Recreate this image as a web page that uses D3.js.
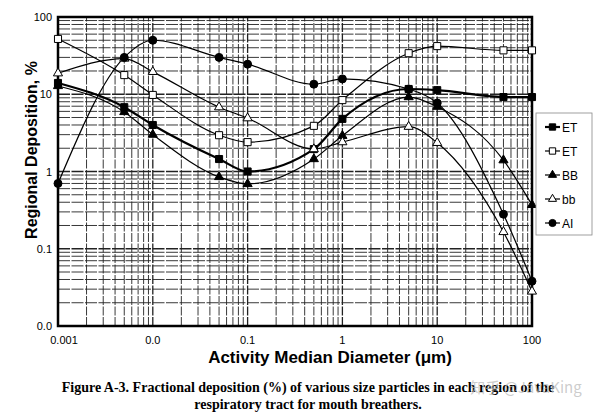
<!DOCTYPE html>
<html>
<head>
<meta charset="utf-8">
<script src="https://cdn.jsdelivr.net/npm/d3@7"></script>
<style>
  body { margin: 0; background: #fff; }
  svg { display: block; }
</style>
</head>
<body>
<script>
// particle size (activity median diameter, um)
var diam = [0.001, 0.005, 0.01, 0.05, 0.1, 0.5, 1, 5, 10, 50, 100];

// regional deposition, %
var etFilled = [14, 6.8, 4.0, 1.45, 1.0, 1.95, 4.8, 11.7, 11.3, 9.2, 9.2];
var etOpen   = [52, 17.7, 9.8, 2.95, 2.4, 3.9, 8.4, 34, 42, 37, 37];
var bbFilled = [12.8, 5.9, 3.0, 0.85, 0.69, 1.45, 2.9, 9.2, 6.9, 1.4, 0.37];
var bbOpen   = [18.7, 29, 19.5, 6.8, 4.9, 1.95, 2.4, 3.8, 2.35, 0.165, 0.028];
var ai       = [0.7, 30, 50, 30, 24.5, 13.5, 15.8, 11.7, 7.7, 0.28, 0.038];

var legendNames = ['ET', 'ET', 'BB', 'bb', 'AI'];

var xTickVals = [0.001, 0.01, 0.1, 1, 10, 100];
var xTickLabels = ['0.001', '0.0', '0.1', '1', '10', '100'];
var yTickVals = [0.01, 0.1, 1, 10, 100];
var yTickLabels = ['0.0', '0.1', '1', '10', '100'];

var w = 600,
    h = 417;

var svg = d3.select('body')
  .append('svg')
  .attr('width', w)
  .attr('height', h);

var x = d3.scaleLog()
  .domain([0.001, 100])
  .range([58, 532]);

var y = d3.scaleLog()
  .domain([0.01, 100])
  .range([326, 17]);

// log paper grid
var minorX = [], minorY = [];
[0.001, 0.01, 0.1, 1, 10].forEach(function(d) {
    for (var k = 2; k <= 9; k++) minorX.push(d * k);
});
[0.01, 0.1, 1, 10].forEach(function(d) {
    for (var k = 2; k <= 9; k++) minorY.push(d * k);
});

var grid = svg.append('g');
grid.selectAll('.vx')
  .data(minorX.concat(xTickVals))
  .enter().append('line')
  .attr('x1', function(d) { return x(d); })
  .attr('x2', function(d) { return x(d); })
  .attr('y1', y.range()[0])
  .attr('y2', y.range()[1])
  .attr('stroke', '#222')
  .attr('stroke-width', function(d) { return xTickVals.indexOf(d) >= 0 ? 1.3 : 0.9; })
  .attr('stroke-dasharray', '9,1.5');

grid.selectAll('.hy')
  .data(minorY.concat(yTickVals))
  .enter().append('line')
  .attr('y1', function(d) { return y(d); })
  .attr('y2', function(d) { return y(d); })
  .attr('x1', x.range()[0])
  .attr('x2', x.range()[1])
  .attr('stroke', '#222')
  .attr('stroke-width', function(d) { return yTickVals.indexOf(d) >= 0 ? 1.3 : 0.9; })
  .attr('stroke-dasharray', '12,1.5');

// frame
svg.append('rect')
  .attr('x', 58)
  .attr('y', 17)
  .attr('width', 474)
  .attr('height', 309)
  .attr('fill', 'none')
  .attr('stroke', '#000')
  .attr('stroke-width', 2.5);

// tick labels
svg.append('g').selectAll('text')
  .data(xTickVals)
  .enter().append('text')
  .attr('x', function(d, i) { return x(d) + (i === 0 ? 6 : 0); })
  .attr('y', 344)
  .attr('text-anchor', 'middle')
  .style('font', '11px "Liberation Sans", Arial, sans-serif')
  .text(function(d, i) { return xTickLabels[i]; });

svg.append('g').selectAll('text')
  .data(yTickVals)
  .enter().append('text')
  .attr('x', 52)
  .attr('y', function(d) { return y(d) + 4; })
  .attr('text-anchor', 'end')
  .style('font', '11px "Liberation Sans", Arial, sans-serif')
  .text(function(d, i) { return yTickLabels[i]; });

// axis titles
svg.append('text')
  .attr('x', 330)
  .attr('y', 363)
  .attr('text-anchor', 'middle')
  .style('font', 'bold 17px "Liberation Sans", Arial, sans-serif')
  .text('Activity Median Diameter (\u03bcm)');

svg.append('text')
  .attr('transform', 'translate(37,150) rotate(-90)')
  .attr('text-anchor', 'middle')
  .style('font', 'bold 16px "Liberation Sans", Arial, sans-serif')
  .text('Regional Deposition, %');

// caption
svg.append('text')
  .attr('x', 308)
  .attr('y', 392)
  .attr('text-anchor', 'middle')
  .style('font', 'bold 14px "Liberation Serif", "Times New Roman", serif')
  .text('Figure A-3.  Fractional deposition (%) of various size particles in each region of the');

svg.append('text')
  .attr('x', 308)
  .attr('y', 409)
  .attr('text-anchor', 'middle')
  .style('font', 'bold 14px "Liberation Serif", "Times New Roman", serif')
  .text('respiratory tract for mouth breathers.');

svg.append('text')
  .attr('x', 526)
  .attr('y', 393)
  .attr('text-anchor', 'middle')
  .attr('fill', '#bbb')
  .attr('fill-opacity', 0.75)
  .style('font', '15px "Noto Sans CJK SC", sans-serif')
  .text('\u77e5\u4e4e @JavaKing');

// series
var series = [
    { name: legendNames[0], values: etFilled, shape: d3.symbolSquare, fill: '#000', width: 2.2, size: 50 },
    { name: legendNames[1], values: etOpen, shape: d3.symbolSquare, fill: '#fff', width: 1.2, size: 50 },
    { name: legendNames[2], values: bbFilled, shape: d3.symbolTriangle, fill: '#000', width: 1.2, size: 36 },
    { name: legendNames[3], values: bbOpen, shape: d3.symbolTriangle, fill: '#fff', width: 1.2, size: 36 },
    { name: legendNames[4], values: ai, shape: d3.symbolCircle, fill: '#000', width: 1.2, size: 50 }
];

var line = d3.line()
  .x(function(d) { return x(d[0]); })
  .y(function(d) { return y(d[1]); })
  .curve(d3.curveMonotoneX);

var plot = svg.append('g');

series.forEach(function(s) {
    var pts = diam.map(function(d, i) { return [d, s.values[i]]; });
    plot.append('path')
      .attr('d', line(pts))
      .attr('fill', 'none')
      .attr('stroke', '#000')
      .attr('stroke-width', s.width);
});

series.forEach(function(s) {
    var pts = diam.map(function(d, i) { return [d, s.values[i]]; });
    plot.selectAll(null)
      .data(pts)
      .enter().append('path')
      .attr('transform', function(d) { return 'translate(' + x(d[0]) + ',' + y(d[1]) + ')'; })
      .attr('d', d3.symbol().type(s.shape).size(s.size))
      .attr('fill', s.fill)
      .attr('stroke', '#000')
      .attr('stroke-width', 1);
});

// legend
var lg = svg.append('g').attr('transform', 'translate(536,113)');
lg.append('rect')
  .attr('width', 56)
  .attr('height', 122)
  .attr('fill', '#fff')
  .attr('stroke', '#888')
  .attr('stroke-width', 0.8);

var item = lg.selectAll('.item')
  .data(series)
  .enter().append('g')
  .attr('transform', function(d, i) { return 'translate(0,' + (14 + i * 24) + ')'; });

item.append('line')
  .attr('x1', 9).attr('x2', 24)
  .attr('stroke', '#000')
  .attr('stroke-width', function(d) { return d.width; });

item.append('path')
  .attr('transform', 'translate(16.5,0)')
  .attr('d', function(d) { return d3.symbol().type(d.shape).size(d.size * 0.8)(); })
  .attr('fill', function(d) { return d.fill; })
  .attr('stroke', '#000');

item.append('text')
  .attr('x', 26)
  .attr('y', 4.5)
  .style('font', '12px "Liberation Sans", Arial, sans-serif')
  .text(function(d) { return d.name; });
</script>
</body>
</html>
